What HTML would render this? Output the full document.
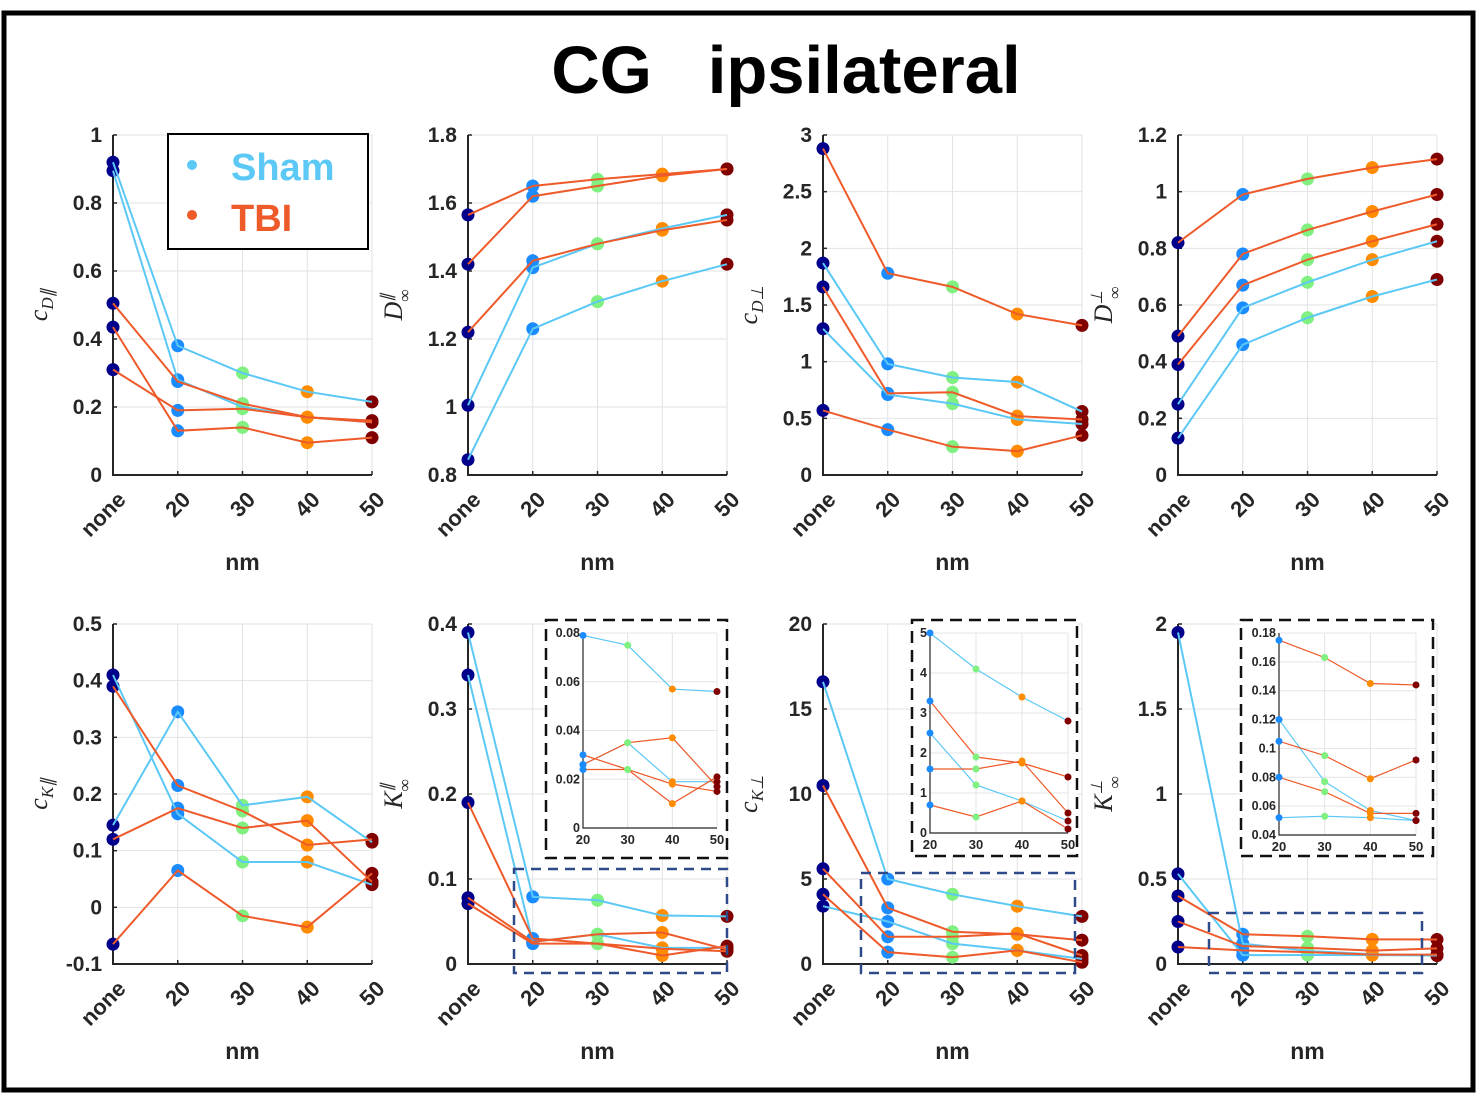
<!DOCTYPE html>
<html><head><meta charset="utf-8"><style>
html,body{margin:0;padding:0;background:#fff}
svg{display:block;font-family:"Liberation Sans","DejaVu Sans",sans-serif}
</style></head><body>
<svg id="chart" width="1479" height="1095" viewBox="0 0 1479 1095" xmlns="http://www.w3.org/2000/svg">
<rect x="4" y="13" width="1469" height="1077" fill="#fff" stroke="#000" stroke-width="5"/>
<text x="786" y="93" text-anchor="middle" font-size="67" font-weight="bold" xml:space="preserve">CG   ipsilateral</text>
<g id="plots"></g>
<g>
<rect x="168" y="134" width="200" height="115" fill="#fff" stroke="#000" stroke-width="2"/>
<circle cx="192" cy="165" r="5" fill="#5bc8f5"/>
<text x="231" y="180" font-size="38" font-weight="bold" fill="#5bc8f5">Sham</text>
<circle cx="192" cy="215" r="5" fill="#ee5a2a"/>
<text x="231" y="231" font-size="38" font-weight="bold" fill="#ee5a2a">TBI</text>
</g>
</svg>
<script>
const categories = ["none","20","30","40","50"];
const insetCategories = ["20","30","40","50"];
// Panel 1 c_D||
const p1Sham = [[0.92,0.38,0.30,0.245,0.215],[0.895,0.28,0.20,0.17,0.155]];
const p1Tbi = [[0.505,0.275,0.21,0.17,0.16],[0.435,0.13,0.14,0.095,0.11],[0.31,0.19,0.195,0.17,0.155]];
const p1Ticks = [0,0.2,0.4,0.6,0.8,1];
// Panel 2 D||inf
const p2Sham = [[1.005,1.41,1.48,1.525,1.565],[0.845,1.23,1.31,1.37,1.42]];
const p2Tbi = [[1.565,1.65,1.67,1.685,1.70],[1.42,1.62,1.65,1.68,1.70],[1.22,1.43,1.48,1.52,1.55]];
const p2Ticks = [0.8,1,1.2,1.4,1.6,1.8];
// Panel 3 c_D perp
const p3Sham = [[1.87,0.98,0.86,0.82,0.56],[1.29,0.71,0.63,0.49,0.45]];
const p3Tbi = [[2.88,1.78,1.66,1.42,1.32],[1.66,0.72,0.73,0.52,0.49],[0.57,0.40,0.25,0.21,0.35]];
const p3Ticks = [0,0.5,1,1.5,2,2.5,3];
// Panel 4 D perp inf
const p4Sham = [[0.25,0.59,0.68,0.76,0.825],[0.13,0.46,0.555,0.63,0.69]];
const p4Tbi = [[0.82,0.99,1.045,1.085,1.115],[0.49,0.78,0.865,0.93,0.99],[0.39,0.67,0.76,0.825,0.885]];
const p4Ticks = [0,0.2,0.4,0.6,0.8,1,1.2];
// Panel 5 c_K||
const p5Sham = [[0.145,0.345,0.18,0.195,0.115],[0.41,0.165,0.08,0.08,0.04]];
const p5Tbi = [[0.39,0.215,0.17,0.11,0.12],[0.12,0.175,0.14,0.153,0.045],[-0.065,0.065,-0.015,-0.035,0.06]];
const p5Ticks = [-0.1,0,0.1,0.2,0.3,0.4,0.5];
// Panel 6 K||inf
const p6Sham = [[0.39,0.079,0.075,0.057,0.056],[0.34,0.026,0.035,0.019,0.019]];
const p6Tbi = [[0.19,0.030,0.024,0.018,0.015],[0.078,0.026,0.035,0.037,0.017],[0.071,0.024,0.024,0.010,0.021]];
const p6Ticks = [0,0.1,0.2,0.3,0.4];
const p6InsetTicks = [0,0.02,0.04,0.06,0.08];
// Panel 7 c_K perp
const p7Sham = [[16.6,5.0,4.1,3.4,2.8],[3.4,2.5,1.2,0.8,0.3]];
const p7Tbi = [[10.5,3.3,1.9,1.75,1.4],[5.6,1.6,1.6,1.8,0.5],[4.1,0.7,0.4,0.8,0.1]];
const p7Ticks = [0,5,10,15,20];
const p7InsetTicks = [0,1,2,3,4,5];
// Panel 8 K perp inf
const p8Sham = [[1.95,0.12,0.077,0.057,0.05],[0.53,0.052,0.053,0.052,0.05]];
const p8Tbi = [[0.40,0.175,0.163,0.145,0.144],[0.25,0.105,0.095,0.079,0.092],[0.10,0.08,0.07,0.055,0.055]];
const p8Ticks = [0,0.5,1,1.5,2];
const p8InsetTicks = [0.04,0.06,0.08,0.1,0.12,0.14,0.16,0.18];

const NS="http://www.w3.org/2000/svg";
const SHAM="#5bc8f5", TBI="#ee5a2a";
const ptColors=["#00008b","#1a8cff","#80f080","#ff8c00","#800000"];
const root=document.getElementById("plots");
function mk(tag,attrs,parent){const e=document.createElementNS(NS,tag);for(const k in attrs)e.setAttribute(k,attrs[k]);(parent||root).appendChild(e);return e;}
function fmt(v){return String(+v.toFixed(3));}

function panel(idx,x0,yTop,yBot,ticks,sham,tbi,ylabelParts,inset,dash){
  const x1=x0+259;
  const g=mk("g",{});
  
  
  const ymin=ticks[0],ymax=ticks[ticks.length-1];
  const X=i=>x0+i*(x1-x0)/(categories.length-1);
  const Y=v=>yBot-(v-ymin)/(ymax-ymin)*(yBot-yTop);
  ticks.forEach(t=>{
    const l=mk("line",{x1:x0,x2:x1,y1:Y(t),y2:Y(t),stroke:"#e2e2e2","stroke-width":1},g);
    
    
    const tx=mk("text",{x:x0-11,y:Y(t)+7,"text-anchor":"end","font-size":21,"font-weight":"bold",fill:"#262626"},g);
    
    
    tx.textContent=fmt(t);
    mk("line",{x1:x0,x2:x0+4,y1:Y(t),y2:Y(t),stroke:"#262626","stroke-width":1.5},g);
  });
  categories.forEach((c,i)=>{
    const l=mk("line",{x1:X(i),x2:X(i),y1:yTop,y2:yBot,stroke:"#e2e2e2","stroke-width":1},g);
    
    
    mk("line",{x1:X(i),x2:X(i),y1:yBot,y2:yBot-4,stroke:"#262626","stroke-width":1.5},g);
    const tx=mk("text",{x:X(i)+14,y:yBot+26,"text-anchor":"end","font-size":22,"font-weight":"bold",fill:"#262626",transform:`rotate(-45 ${X(i)+14} ${yBot+26})`},g);
    
    
    tx.textContent=c;
  });
  const ax=mk("path",{d:`M${x0} ${yTop} V${yBot} H${x1}`,fill:"none",stroke:"#262626","stroke-width":2},g);
  
  
  const xl=mk("text",{x:(x0+x1)/2,y:yBot+95,"text-anchor":"middle","font-size":23,"font-weight":"bold",fill:"#262626"},g);
  
  
  xl.textContent="nm";
  const yl=mk("text",{transform:`translate(${x0-66} ${(yTop+yBot)/2}) rotate(-90)`,"text-anchor":"middle","font-size":26,"font-style":"italic","font-family":"Liberation Serif, serif",fill:"#262626"},g);
  
  
  yl.innerHTML=ylabelParts;
  const series=(arr,col,name,X,Y,r,w,par)=>arr.forEach((s,k)=>{
    const pl=mk("polyline",{points:s.map((v,i)=>X(i)+","+Y(v)).join(" "),fill:"none",stroke:col,"stroke-width":w},par);
    
    
  });
  const pts=(arr,X,Y,r,par,off)=>arr.forEach(s=>s.forEach((v,i)=>{
    const c=mk("circle",{cx:X(i),cy:Y(v),r:r,fill:ptColors[i+off]},par);
    
    
  }));
  pts(sham,X,Y,6.5,g,0);pts(tbi,X,Y,6.5,g,0);
  series(sham,SHAM,"sham",X,Y,0,2,g);series(tbi,TBI,"tbi",X,Y,0,2,g);
  if(dash){
    const d=mk("rect",{x:dash[0],y:dash[1],width:dash[2]-dash[0],height:dash[3]-dash[1],fill:"none",stroke:"#2e4a8a","stroke-width":2.5,"stroke-dasharray":"10 7"},g);
    
    
  }
  if(inset){
    const [bx0,by0,bx1,by1,ix0,ix1,iyT,iyB,iticks]=inset;
    const ig=mk("g",{},g);
    
    
    mk("rect",{x:bx0,y:by0,width:bx1-bx0,height:by1-by0,fill:"#fff",stroke:"#111","stroke-width":2.5,"stroke-dasharray":"12 7"},ig);
    const imin=iticks[0],imax=iticks[iticks.length-1];
    const IX=i=>ix0+i*(ix1-ix0)/(insetCategories.length-1);
    const IY=v=>iyB-(v-imin)/(imax-imin)*(iyB-iyT);
    iticks.forEach(t=>{
      mk("line",{x1:ix0,x2:ix1,y1:IY(t),y2:IY(t),stroke:"#e4e4e4"},ig);
      const tx=mk("text",{x:ix0-3,y:IY(t)+4,"text-anchor":"end","font-size":12.5,"font-weight":"bold",fill:"#262626"},ig);
      
      
      tx.textContent=fmt(t);
    });
    insetCategories.forEach((c,i)=>{
      mk("line",{x1:IX(i),x2:IX(i),y1:iyT,y2:iyB,stroke:"#e4e4e4"},ig);
      const tx=mk("text",{x:IX(i),y:iyB+16,"text-anchor":"middle","font-size":13,"font-weight":"bold",fill:"#262626"},ig);
      
      
      tx.textContent=c;
    });
    mk("path",{d:`M${ix0} ${iyT} V${iyB} H${ix1}`,fill:"none",stroke:"#262626","stroke-width":1.2},ig);
    const s2=sham.map(s=>s.slice(1)),t2=tbi.map(s=>s.slice(1));
    series(s2,SHAM,"inset-sham",IX,IY,0,1.2,ig);series(t2,TBI,"inset-tbi",IX,IY,0,1.2,ig);
    pts(s2,IX,IY,3.5,ig,1);pts(t2,IX,IY,3.5,ig,1);
  }
}
panel(1,113,135,475,p1Ticks,p1Sham,p1Tbi,'c<tspan font-size="17" dy="6">D∥</tspan>');
panel(2,468,135,475,p2Ticks,p2Sham,p2Tbi,'D<tspan font-size="16" dy="-10">∥</tspan><tspan font-size="17" dx="-8" dy="18">∞</tspan>');
panel(3,823,135,475,p3Ticks,p3Sham,p3Tbi,'c<tspan font-size="17" dy="6">D⊥</tspan>');
panel(4,1178,135,475,p4Ticks,p4Sham,p4Tbi,'D<tspan font-size="16" dy="-10">⊥</tspan><tspan font-size="17" dx="-8" dy="18">∞</tspan>');
panel(5,113,624,964,p5Ticks,p5Sham,p5Tbi,'c<tspan font-size="17" dy="6">K∥</tspan>');
panel(6,468,624,964,p6Ticks,p6Sham,p6Tbi,'K<tspan font-size="16" dy="-10">∥</tspan><tspan font-size="17" dx="-8" dy="18">∞</tspan>',
  [546,620,727,858,583,717,633,828,p6InsetTicks],[514,869,727,973]);
panel(7,823,624,964,p7Ticks,p7Sham,p7Tbi,'c<tspan font-size="17" dy="6">K⊥</tspan>',
  [912,620,1077,856,930,1068,633,833,p7InsetTicks],[861,873,1075,973]);
panel(8,1178,624,964,p8Ticks,p8Sham,p8Tbi,'K<tspan font-size="16" dy="-10">⊥</tspan><tspan font-size="17" dx="-8" dy="18">∞</tspan>',
  [1241,620,1433,856,1279,1416,633,835,p8InsetTicks],[1209,913,1422,973]);
</script>
</body></html>
